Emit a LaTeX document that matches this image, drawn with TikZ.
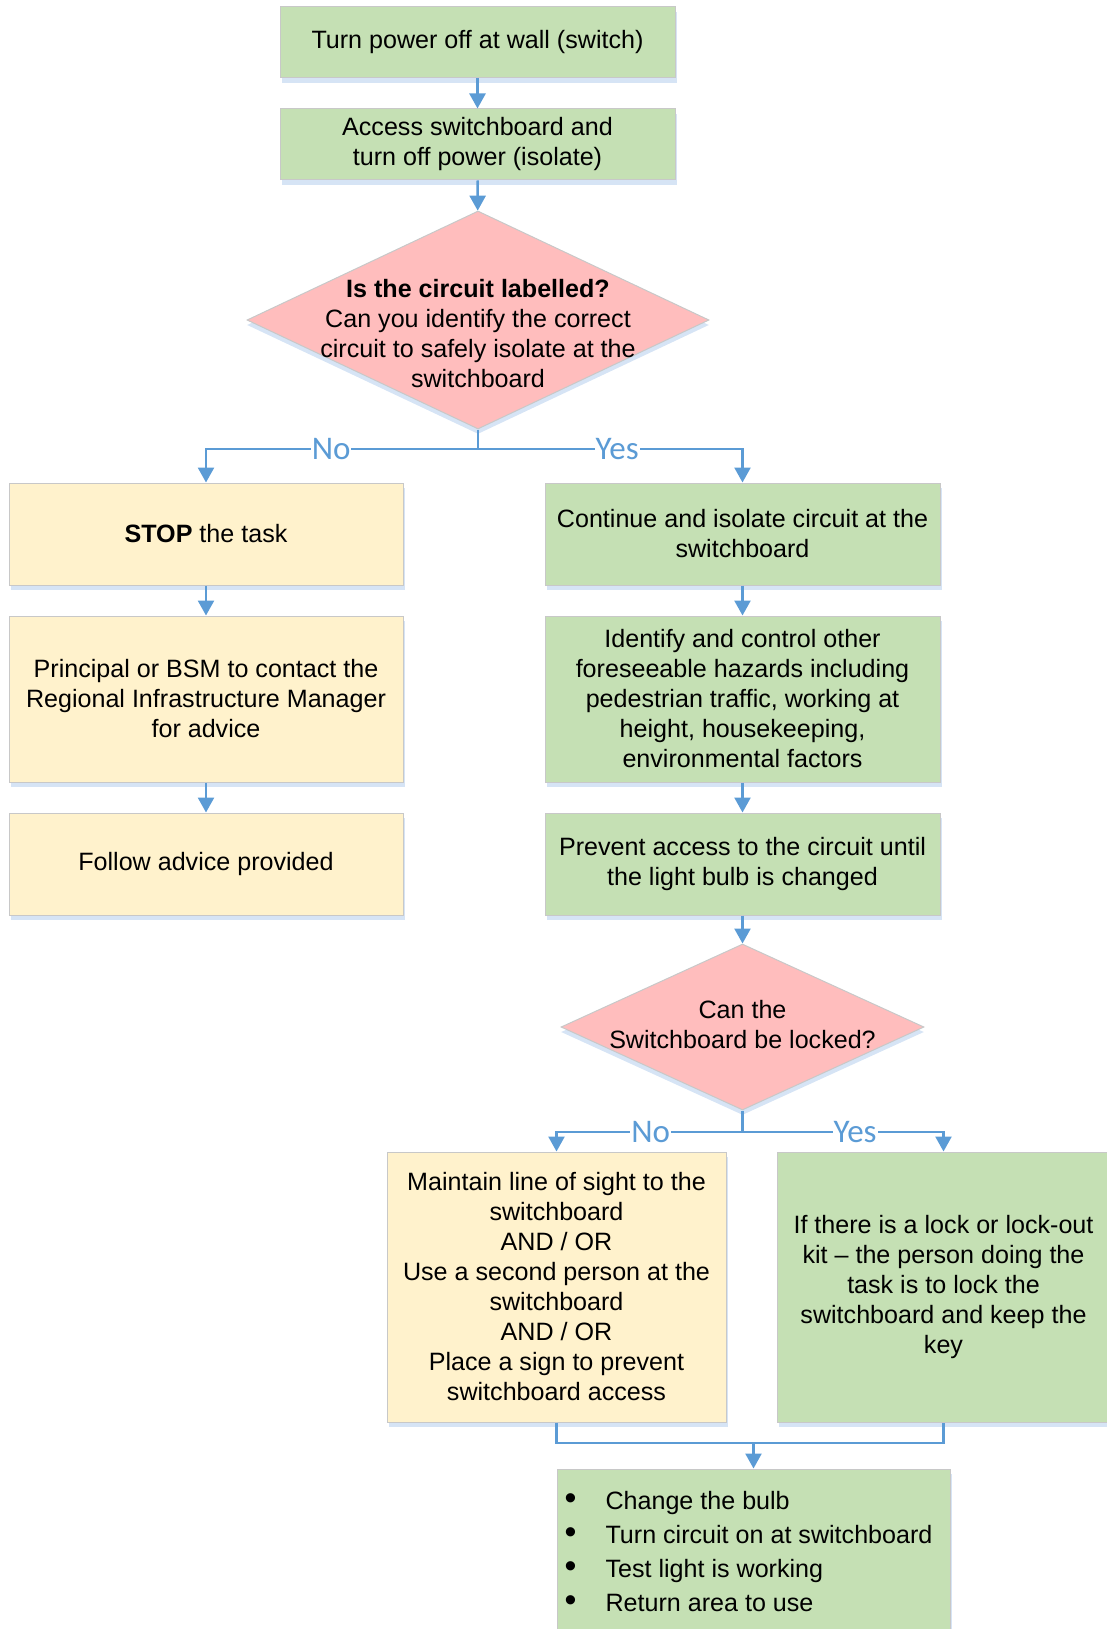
\documentclass[tikz,border=0pt]{standalone}
\usepackage{fontspec}
\setmainfont{Liberation Sans}
\newfontfamily\labelfont{Carlito}
\usepackage{tikz}
\usetikzlibrary{arrows.meta, shapes.geometric, shadows}
\definecolor{figG}{RGB}{197,224,180}
\definecolor{figY}{RGB}{255,242,204}
\definecolor{figP}{RGB}{255,189,189}
\definecolor{figB}{RGB}{91,155,213}
\definecolor{figS}{RGB}{214,228,245}
\definecolor{figE}{RGB}{200,200,200}
\newcommand{\boxfont}{\fontsize{25.1}{30}\selectfont}
\newcommand{\bigdot}{\makebox[41pt][l]{\raisebox{0.5pt}{\scalebox{1.35}{\textbullet}}}}
\tikzset{
  stepbase/.style={rectangle, draw=figE, line width=1pt, inner sep=0pt, align=center,
    font=\boxfont, drop shadow={shadow xshift=2pt, shadow yshift=-5pt, fill=figS, opacity=1}},
  greenbox/.style={stepbase, fill=figG},
  yellowbox/.style={stepbase, fill=figY},
  decision/.style={diamond, draw=figE, line width=1pt, fill=figP, inner sep=0pt,
    drop shadow={shadow xshift=0pt, shadow yshift=-5pt, fill=figS, opacity=1}},
  line/.style={figB, line width=2.5pt},
  arr/.style={line, -{Triangle[width=16pt,length=15pt]}},
  lbl/.style={font=\labelfont\fontsize{33}{33}\selectfont, text=figB, fill=white, inner sep=1pt}
}

\begin{document}
\begin{tikzpicture}[x=1pt, y=-1pt]
\useasboundingbox (0,0) rectangle (1107,1629);
% top of the chart
\node[greenbox, minimum width=395pt, minimum height=71pt] (wall) at (477.5,42.5) {Turn power off at wall (switch)};
\node[greenbox, minimum width=395pt, minimum height=71pt] (access) at (477.5,144.5) {Access switchboard and\\turn off power (isolate)};
\node[decision, minimum width=462pt, minimum height=218pt] (labelled) at (478,320) {};
\node[font=\boxfont, align=center] (labelledtxt) at (478,334) {\textbf{Is the circuit labelled?}\\Can you identify the correct\\circuit to safely isolate at the\\switchboard};
% left column (No)
\node[yellowbox, minimum width=394pt, minimum height=102pt] (stop) at (206,534) {\textbf{STOP} the task};
\node[yellowbox, minimum width=394pt, minimum height=166pt] (contact) at (206,699) {Principal or BSM to contact the\\Regional Infrastructure Manager\\for advice};
\node[yellowbox, minimum width=394pt, minimum height=102pt] (advice) at (206,864) {Follow advice provided};
% right column (Yes)
\node[greenbox, minimum width=395pt, minimum height=102pt] (isolate) at (742.5,534) {Continue and isolate circuit at the\\switchboard};
\node[greenbox, minimum width=395pt, minimum height=166pt] (hazards) at (742.5,699) {Identify and control other\\foreseeable hazards including\\pedestrian traffic, working at\\height, housekeeping,\\environmental factors};
\node[greenbox, minimum width=395pt, minimum height=102pt] (prevent) at (742.5,864) {Prevent access to the circuit until\\the light bulb is changed};
\node[decision, minimum width=363pt, minimum height=166pt] (locked) at (742.5,1027) {};
\node[font=\boxfont, align=center] (lockedtxt) at (742.5,1025) {Can the\\Switchboard be locked?};
% second split
\node[yellowbox, minimum width=339pt, minimum height=270pt] (sight) at (556.5,1287) {Maintain line of sight to the\\switchboard\\AND / OR\\Use a second person at the\\switchboard\\AND / OR\\Place a sign to prevent\\switchboard access};
\node[greenbox, minimum width=333pt, minimum height=270pt] (lockout) at (943.5,1287) {If there is a lock or lock-out\\kit -- the person doing the\\task is to lock the\\switchboard and keep the\\key};
\node[greenbox, minimum width=393pt, minimum height=182pt] (bulb) at (753.5,1560) {};
\node[anchor=west, align=left, font=\fontsize{25.1}{34}\selectfont] (bulbtxt) at (561,1552)
  {\bigdot Change the bulb\\\bigdot Turn circuit on at switchboard\\\bigdot Test light is working\\\bigdot Return area to use};
% connectors
\draw[arr] (wall) -- (access);
\draw[arr] (access) -- (labelled);
\coordinate (split1) at (478,449);
\draw[line] (labelled.south) -- (split1);
\draw[arr] (split1) -| node[pos=0.27, lbl] {No} (stop.north);
\draw[arr] (split1) -| node[pos=0.263, lbl] {Yes} (isolate.north);
\draw[arr] (stop) -- (contact);
\draw[arr] (contact) -- (advice);
\draw[arr] (isolate) -- (hazards);
\draw[arr] (hazards) -- (prevent);
\draw[arr] (prevent) -- (locked);
\coordinate (split2) at (742.5,1132);
\draw[line] (locked.south) -- (split2);
\draw[arr] (split2) -| node[pos=0.247, lbl] {No} (sight.north);
\draw[arr] (split2) -| node[pos=0.28, lbl] {Yes} (lockout.north);
\coordinate (merge) at (753.5,1443);
\draw[line] (sight.south) |- (merge) -| (lockout.south);
\draw[arr] (merge) -- (bulb.north);
\end{tikzpicture}
\end{document}
